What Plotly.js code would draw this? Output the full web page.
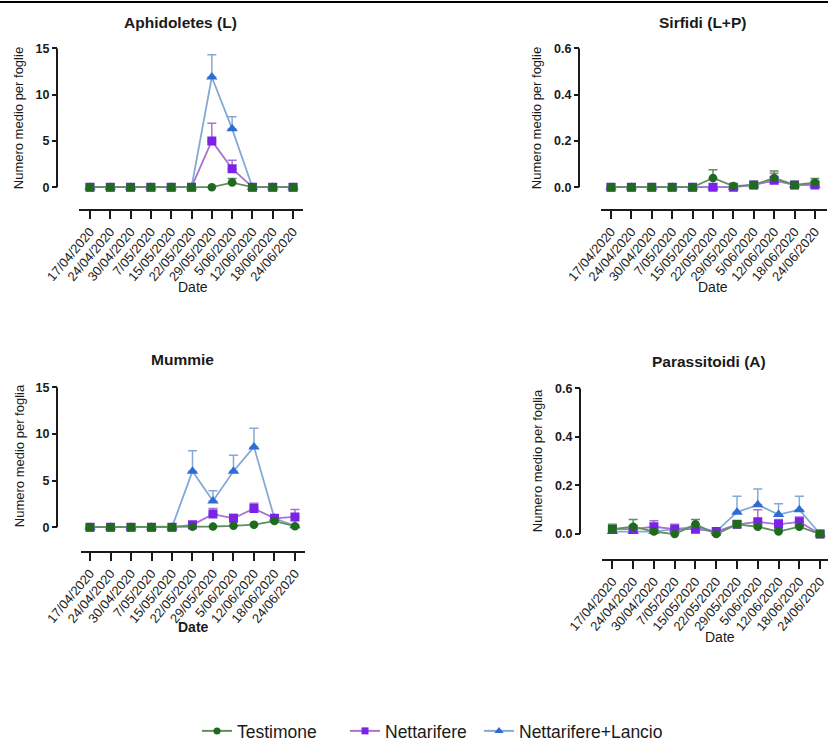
<!DOCTYPE html>
<html>
<head>
<meta charset="utf-8">
<script src="https://cdn.plot.ly/plotly-3.0.1.min.js"></script>
<style>
  html, body { margin: 0; padding: 0; background: #fff; }
  #chart { width: 828px; height: 749px; }
</style>
</head>
<body>
<div id="chart"></div>
<script>
// Sampling dates (x categories)
const dates = ['17/04/2020', '24/04/2020', '30/04/2020', '7/05/2020', '15/05/2020', '22/05/2020',
               '29/05/2020', '5/06/2020', '12/06/2020', '18/06/2020', '24/06/2020'];

const seriesNames = ['Testimone', 'Nettarifere', 'Nettarifere+Lancio'];

// Aphidoletes (L)
const aphTest     = [0, 0, 0, 0, 0, 0, 0, 0.5, 0, 0, 0];
const aphTestErr  = [0, 0, 0, 0, 0, 0, 0, 0.45, 0, 0, 0];
const aphNett     = [0, 0, 0, 0, 0, 0, 5.0, 2.0, 0, 0, 0];
const aphNettErr  = [0, 0, 0, 0, 0, 0, 1.9, 0.9, 0, 0, 0];
const aphLanc     = [0, 0, 0, 0, 0, 0, 11.9, 6.3, 0, 0, 0];
const aphLancErr  = [0, 0, 0, 0, 0, 0, 2.4, 1.3, 0, 0, 0];

// Sirfidi (L+P)
const sirTest     = [0, 0, 0, 0, 0, 0.04, 0.005, 0.01, 0.04, 0.01, 0.02];
const sirTestErr  = [0, 0, 0, 0, 0, 0.035, 0, 0, 0.03, 0, 0.018];
const sirNett     = [0, 0, 0, 0, 0, 0, 0, 0.01, 0.03, 0.01, 0.01];
const sirNettErr  = [0, 0, 0, 0, 0, 0, 0, 0, 0.03, 0, 0.01];
const sirLanc     = [0, 0, 0, 0, 0, 0, 0, 0.01, 0.03, 0.01, 0.01];
const sirLancErr  = [0, 0, 0, 0, 0, 0, 0, 0, 0, 0, 0];

// Mummie
const mumTest     = [0, 0, 0, 0, 0, 0.05, 0.07, 0.14, 0.27, 0.65, 0.1];
const mumTestErr  = [0, 0, 0, 0, 0, 0.02, 0.03, 0.05, 0.1, 0.15, 0.05];
const mumNett     = [0, 0, 0, 0, 0, 0.25, 1.4, 0.95, 2.0, 0.95, 1.1];
const mumNettErr  = [0, 0, 0, 0, 0, 0.1, 0.6, 0.4, 0.55, 0.2, 0.8];
const mumLanc     = [0, 0, 0, 0, 0, 6.0, 2.8, 6.0, 8.6, 0.95, 0.15];
const mumLancErr  = [0, 0, 0, 0, 0, 2.2, 1.1, 1.7, 2.0, 0.2, 0.1];

// Parassitoidi (A)
const parTest     = [0.02, 0.03, 0.01, 0, 0.04, 0, 0.04, 0.03, 0.01, 0.03, 0];
const parTestErr  = [0.02, 0.03, 0.01, 0.01, 0.02, 0.005, 0.01, 0.01, 0.01, 0.01, 0];
const parNett     = [0.02, 0.02, 0.03, 0.02, 0.02, 0.01, 0.04, 0.05, 0.04, 0.05, 0];
const parNettErr  = [0.01, 0.01, 0.025, 0.02, 0.01, 0.005, 0.01, 0.05, 0.02, 0.02, 0];
const parLanc     = [0.01, 0.01, 0.01, 0.02, 0.03, 0.01, 0.09, 0.12, 0.08, 0.1, 0];
const parLancErr  = [0.005, 0.005, 0.005, 0.005, 0.01, 0.005, 0.065, 0.065, 0.045, 0.055, 0];

// Styling
const W = 828, H = 749;
const FONT = 'Liberation Sans, Arial, sans-serif';
const INK = '#1a1a1a';
const colors = {
  test: { marker: '#1f6a1f', line: '#5e905e' },
  nett: { marker: '#7b22e8', line: '#a673cf' },
  lanc: { marker: '#2d6cd6', line: '#85a9d4' }
};
const px = v => v / W;
const py = v => 1 - v / H;

function errArr(e) { return e.map(v => (v > 0 ? v : null)); }

function series(xa, ya, y, err, c, symbol, size) {
  return {
    type: 'scatter', mode: 'lines+markers',
    x: dates, y: y, xaxis: xa, yaxis: ya, showlegend: false,
    line: { color: c.line, width: 1.8 },
    marker: { color: c.marker, symbol: symbol, size: size, line: { width: 0 } },
    error_y: { type: 'data', symmetric: false, array: errArr(err),
               arrayminus: err.map(() => 0), color: c.line, thickness: 1.5, width: 4.5 },
    hoverinfo: 'x+y'
  };
}

// Control markers that sit on the Nettarifere point are drawn square
function testSymbols(test, nett) {
  return test.map((v, i) => (v === nett[i] ? 'square' : 'circle'));
}

function panelTraces(xa, ya, t, te, n, ne, l, le) {
  return [
    series(xa, ya, l, le, colors.lanc, 'triangle-up', 10),
    series(xa, ya, n, ne, colors.nett, 'square', 9),
    series(xa, ya, t, te, colors.test, testSymbols(t, n), 8.5)
  ];
}

const data = [].concat(
  panelTraces('x',  'y',  aphTest, aphTestErr, aphNett, aphNettErr, aphLanc, aphLancErr),
  panelTraces('x2', 'y2', sirTest, sirTestErr, sirNett, sirNettErr, sirLanc, sirLancErr),
  panelTraces('x3', 'y3', mumTest, mumTestErr, mumNett, mumNettErr, mumLanc, mumLancErr),
  panelTraces('x4', 'y4', parTest, parTestErr, parNett, parNettErr, parLanc, parLancErr)
);

// Legend entries, one legend box per series so each can be placed freely
const legendSpec = [
  { c: colors.test, sym: 'circle', size: 7, legend: 'legend' },
  { c: colors.nett, sym: 'square', size: 7, legend: 'legend2' },
  { c: colors.lanc, sym: 'triangle-up', size: 8, legend: 'legend3' }
];
legendSpec.forEach((s, i) => {
  data.push({
    type: 'scatter', mode: 'lines+markers', x: [null], y: [null],
    name: seriesNames[i], legend: s.legend, showlegend: true,
    line: { color: s.c.line, width: 2 },
    marker: { color: s.c.marker, symbol: s.sym, size: s.size }
  });
});

function xAxis(anchor, x0, x1, r0, r1) {
  return {
    type: 'category', anchor: anchor, domain: [px(x0), px(x1)], range: [r0, r1],
    showline: true, linecolor: INK, linewidth: 2,
    ticks: 'outside', ticklen: 8, tickwidth: 2, tickcolor: INK,
    tickangle: -50, tickfont: { family: FONT, size: 13, color: '#222' },
    showgrid: false, zeroline: false, fixedrange: true
  };
}
function yAxis(axPx, yBottom, yTop, r0, r1, tickvals, fmt) {
  return {
    anchor: 'free', position: px(axPx), domain: [py(yBottom), py(yTop)], range: [r0, r1],
    showline: false, tickvals: tickvals, tickformat: fmt,
    ticks: 'outside', ticklen: 5, tickwidth: 2, tickcolor: INK,
    tickfont: { family: FONT, size: 12.5, color: INK, weight: 'bold' },
    showgrid: false, zeroline: false, fixedrange: true
  };
}
function yLine(yref, axPx, top) {
  return { type: 'line', xref: 'paper', yref: yref, x0: px(axPx), x1: px(axPx), y0: 0, y1: top,
           line: { color: INK, width: 2 } };
}
function text(t, xPx, yPx, size, bold, angle) {
  return { text: t, xref: 'paper', yref: 'paper', x: px(xPx), y: py(yPx),
           xanchor: 'center', yanchor: 'middle', showarrow: false, textangle: angle || 0,
           font: { family: FONT, size: size, color: INK, weight: bold ? 'bold' : 'normal' } };
}
function legendBox(xPx) {
  return { x: px(xPx), y: py(742), xanchor: 'left', yanchor: 'middle', orientation: 'h',
           bgcolor: 'rgba(0,0,0,0)', borderwidth: 0,
           font: { family: FONT, size: 17.5, color: INK } };
}

const layout = {
  width: W, height: H,
  margin: { l: 0, r: 0, t: 0, b: 0 },
  paper_bgcolor: '#fff', plot_bgcolor: 'rgba(0,0,0,0)',
  showlegend: true,
  xaxis:  xAxis('y',  79, 303, -0.54, 10.49),
  xaxis2: xAxis('y2', 601, 827, -0.49, 10.59),
  xaxis3: xAxis('y3', 81, 305, -0.44, 10.49),
  xaxis4: xAxis('y4', 602, 828, -0.5, 10.38),
  yaxis:  yAxis(57, 212, 49, -2.34, 15, [0, 5, 10, 15], 'd'),
  yaxis2: yAxis(579, 212, 49, -0.0936, 0.6, [0, 0.2, 0.4, 0.6], '.1f'),
  yaxis3: yAxis(57, 559, 393, -2.535, 15, [0, 5, 10, 15], 'd'),
  yaxis4: yAxis(580, 567, 394, -0.1014, 0.6, [0, 0.2, 0.4, 0.6], '.1f'),
  legend: legendBox(197),
  legend2: legendBox(345),
  legend3: legendBox(479),
  shapes: [
    yLine('y', 57, 15), yLine('y2', 579, 0.6), yLine('y3', 57, 15), yLine('y4', 580, 0.6),
    { type: 'line', xref: 'paper', yref: 'paper', x0: 0, x1: 1, y0: py(2), y1: py(2),
      line: { color: '#000', width: 2 } }
  ],
  annotations: [
    text('Aphidoletes (L)', 180, 23, 15.5, true),
    text('Sirfidi (L+P)', 702, 23, 15.5, true),
    text('Mummie', 182, 365, 15.5, true),
    text('Parassitoidi (A)', 709, 367, 15.5, true),
    text('Numero medio per foglie', 18, 120, 13, false, -90),
    text('Numero medio per foglie', 536, 120, 13, false, -90),
    text('Numero medio per foglia', 19, 463, 13, false, -90),
    text('Numero medio per foglia', 537, 468, 13, false, -90),
    text('Date', 193, 291, 14, false),
    text('Date', 713, 291, 14, false),
    text('Date', 193, 636, 14, true),
    text('Date', 720, 646, 14, false)
  ]
};

Plotly.newPlot('chart', data, layout, { displayModeBar: false, staticPlot: true });
</script>
</body>
</html>
